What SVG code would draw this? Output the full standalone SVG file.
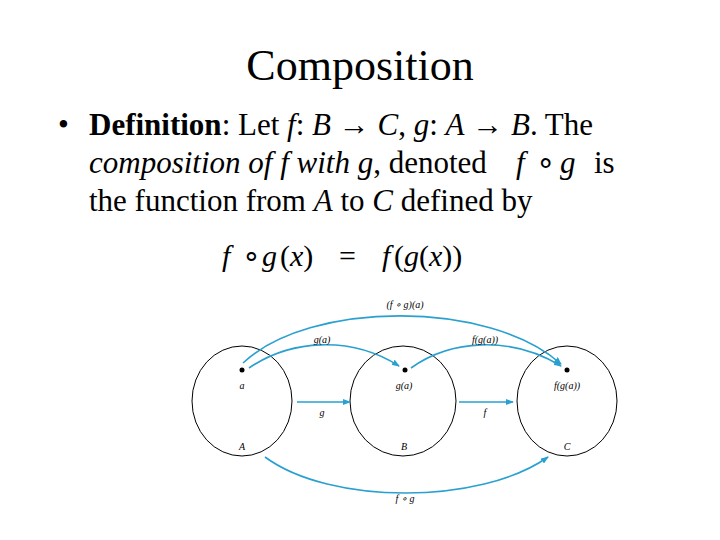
<svg xmlns="http://www.w3.org/2000/svg" width="720" height="540" viewBox="0 0 720 540" font-family="'Liberation Serif', 'Times New Roman', serif">
<style>
text{font-family:"Liberation Serif","Times New Roman",serif}
.s{font-size:10px;font-style:italic;text-anchor:middle}
.c{fill:none;stroke:#000;stroke-width:1}
.a{fill:none;stroke:#2aa0d0;stroke-width:1.6;marker-end:url(#ar)}
</style>
<defs><marker id="ar" markerWidth="8" markerHeight="6" refX="7" refY="3" orient="auto" markerUnits="userSpaceOnUse"><path d="M0,0L8,3L0,6z" fill="#2aa0d0"/></marker></defs>
<rect width="720" height="540" fill="#fff"/>
<text x="360" y="80" font-size="44" text-anchor="middle">Composition</text>
<g font-size="31">
<text x="58" y="135">•</text>
<text x="89" y="135"><tspan font-weight="bold">Definition</tspan>: Let <tspan font-style="italic">f</tspan>: <tspan font-style="italic">B</tspan> → <tspan font-style="italic">C</tspan>, <tspan font-style="italic">g</tspan>: <tspan font-style="italic">A</tspan> → <tspan font-style="italic">B</tspan>. The</text>
<text x="89" y="173"><tspan font-style="italic">composition of f with g</tspan>, denoted</text>
<text x="516" y="173" font-style="italic">f</text><text x="536" y="173">∘</text><text x="560" y="173" font-style="italic">g</text>
<text x="594" y="173">is</text>
<text x="89" y="211">the function from <tspan font-style="italic">A</tspan> to <tspan font-style="italic">C</tspan> defined by</text>
</g>
<g font-size="30">
<text x="222" y="266" font-style="italic">f</text><text x="242" y="266">∘</text><text x="262" y="266" font-style="italic">g</text><text x="280" y="266">(<tspan font-style="italic">x</tspan>)</text>
<text x="339" y="266">=</text>
<text x="382" y="266" font-style="italic">f</text><text x="394" y="266">(<tspan font-style="italic">g</tspan>(<tspan font-style="italic">x</tspan>))</text>
</g>
<g id="nodeA"><ellipse class="c" cx="242" cy="401" rx="50" ry="55"/><circle cx="242" cy="370" r="2.5"/><text class="s" x="242" y="389">a</text><text class="s" x="242" y="450">A</text></g>
<g id="nodeB"><ellipse class="c" cx="403" cy="401" rx="53" ry="55"/><circle cx="405" cy="370" r="2.5"/><text class="s" x="404" y="389">g(a)</text><text class="s" x="404" y="450">B</text></g>
<g id="nodeC"><ellipse class="c" cx="567" cy="401" rx="50" ry="55"/><circle cx="567" cy="370" r="2.5"/><text class="s" x="567" y="389">f(g(a))</text><text class="s" x="567" y="450">C</text></g>
<g id="connectors">
<path class="a" d="M297,402H350"/><text class="s" x="322" y="416">g</text>
<path class="a" d="M459,402H513"/><text class="s" x="485" y="416">f</text>
<path class="a" d="M249,368C290,340 350,335 399,366"/><text class="s" x="322" y="343">g(a)</text>
<path class="a" d="M411,368C450,340 510,335 561,366"/><text class="s" x="485" y="343">f(g(a))</text>
<path class="a" d="M243,363C310,300 490,300 561,364"/><text class="s" x="405" y="308">(f ∘ g)(a)</text>
<path class="a" d="M265,457C330,505 480,505 548,457"/><text class="s" x="405" y="502">f ∘ g</text>
</g>
</svg>
